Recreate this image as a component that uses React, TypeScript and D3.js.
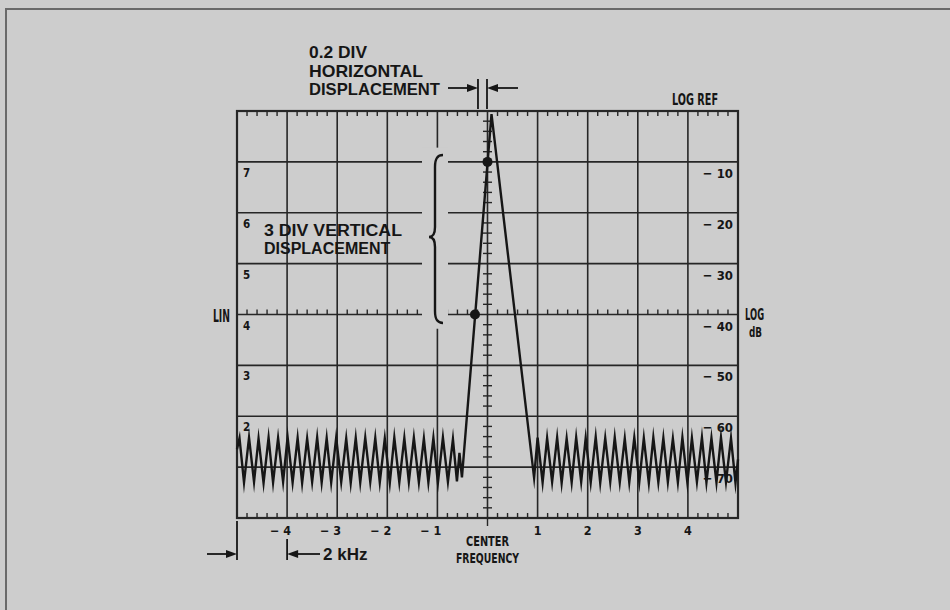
import React from "react";
import * as d3 from "d3";

const W = 950;
const H = 610;

// Graticule divisions (x: frequency divisions, y: LIN scale units)
const xDivisions = [-5, -4, -3, -2, -1, 0, 1, 2, 3, 4, 5];
const yLevels = [0, 1, 2, 3, 4, 5, 6, 7, 8];

const linLabels = ["7", "6", "5", "4", "3", "2"];
const linLevels = [7, 6, 5, 4, 3, 2];
const logLabels = ["− 10", "− 20", "− 30", "− 40", "− 50", "− 60", "− 70"];
const logLevels = [7, 6, 5, 4, 3, 2, 1];
const freqLabels = ["− 4", "− 3", "− 2", "− 1", "1", "2", "3", "4"];
const freqValues = [-4, -3, -2, -1, 1, 2, 3, 4];

// Trace: noise on the left
const leftNoiseX = [
  -5.0, -4.95, -4.86, -4.76, -4.66, -4.57, -4.47, -4.37, -4.28, -4.18, -4.08,
  -3.99, -3.89, -3.79, -3.7, -3.6, -3.5, -3.4, -3.31, -3.21, -3.12, -3.02,
  -2.92, -2.82, -2.73, -2.63, -2.54, -2.44, -2.34, -2.24, -2.15, -2.05, -1.95,
  -1.86, -1.76, -1.66, -1.57, -1.47, -1.37, -1.27, -1.18, -1.08, -0.99, -0.89,
  -0.79, -0.69, -0.61, -0.56, -0.51,
];
const leftNoiseY = [
  1.35, 1.57, 0.7, 1.58, 0.71, 1.56, 0.69, 1.58, 0.7, 1.57, 0.71, 1.59, 0.7,
  1.57, 0.69, 1.56, 0.71, 1.58, 0.7, 1.57, 0.7, 1.58, 0.71, 1.56, 0.69, 1.57,
  0.7, 1.58, 0.71, 1.57, 0.7, 1.56, 0.69, 1.58, 0.7, 1.57, 0.71, 1.58, 0.7,
  1.56, 0.7, 1.57, 0.69, 1.58, 0.71, 1.55, 0.72, 1.28, 0.8,
];
// Trace: the signal peak
const peakX = [-0.51, 0.08, 0.93];
const peakY = [0.8, 7.94, 0.79];
// Trace: noise on the right
const rightNoiseX = [
  0.93, 1.0, 1.1, 1.19, 1.29, 1.39, 1.48, 1.58, 1.68, 1.77, 1.87, 1.96, 2.06,
  2.16, 2.25, 2.35, 2.45, 2.54, 2.64, 2.74, 2.83, 2.93, 3.03, 3.12, 3.22, 3.31,
  3.41, 3.51, 3.6, 3.7, 3.8, 3.89, 3.99, 4.08, 4.18, 4.28, 4.37, 4.47, 4.57,
  4.66, 4.76, 4.86, 4.95, 5.0,
];
const rightNoiseY = [
  0.79, 1.58, 0.7, 1.57, 0.71, 1.58, 0.69, 1.56, 0.7, 1.58, 0.71, 1.57, 0.7,
  1.59, 0.69, 1.57, 0.71, 1.58, 0.7, 1.56, 0.7, 1.58, 0.71, 1.57, 0.69, 1.58,
  0.7, 1.57, 0.71, 1.56, 0.7, 1.58, 0.69, 1.57, 0.71, 1.58, 0.7, 1.57, 0.7,
  1.58, 0.71, 1.57, 0.69, 1.15,
];

// Marked points on the rising edge
const dotX = [-0.25, 0.0];
const dotY = [4, 7];
// 0.2 div horizontal displacement bars
const barX = [-0.19, -0.01];

const BG = "#cdcdcd";
const INK = "#161616";
const GRID = "#262626";
const COND = "'DejaVu Sans Condensed', 'DejaVu Sans', sans-serif";
const SANS = "'Liberation Sans', Arial, sans-serif";

export default function App() {
  const x = d3.scaleLinear().domain([-5, 5]).range([237, 738]);
  const y = d3.scaleLinear().domain([0, 8]).range([518, 111]);

  const minorX = x.ticks(50).filter((v) => Math.abs(v - Math.round(v)) > 1e-6);
  const minorY = y.ticks(40).filter((v) => Math.abs(v - Math.round(v)) > 1e-6);

  const traceX = [...leftNoiseX, ...peakX.slice(1), ...rightNoiseX.slice(1)];
  const traceY = [...leftNoiseY, ...peakY.slice(1), ...rightNoiseY.slice(1)];
  const pts: [number, number][] = traceX.map((v, i) => [v, traceY[i]]);
  const line = d3
    .line<[number, number]>()
    .x((d) => x(d[0]))
    .y((d) => y(d[1]));

  const x0 = x(-5);
  const x1 = x(5);
  const yTop = y(8);
  const yBot = y(0);
  const yMid = y(4);
  const xc = x(0);

  const arrowR = (xe: number, yy: number) =>
    `M${xe},${yy} L${xe - 11},${yy - 4} L${xe - 11},${yy + 4} Z`;
  const arrowL = (xe: number, yy: number) =>
    `M${xe},${yy} L${xe + 11},${yy - 4} L${xe + 11},${yy + 4} Z`;

  const bx0 = x(barX[0]);
  const bx1 = x(barX[1]);

  return (
    <svg
      width={W}
      height={H}
      viewBox={`0 0 ${W} ${H}`}
      style={{ position: "absolute", left: 0, top: 0, display: "block" }}
    >
      <rect x={0} y={0} width={W} height={H} fill={BG} />
      <rect x={6} y={9} width={W + 20} height={H + 20} fill="none" stroke="#6a6a6a" strokeWidth={2} />

      {/* Grid lines */}
      {xDivisions.slice(1, -1).map((d) => (
        <line key={"vx" + d} x1={x(d)} x2={x(d)} y1={yTop} y2={yBot} stroke={GRID} strokeWidth={1.6} />
      ))}
      {yLevels.slice(1, -1).map((d) => (
        <line key={"hy" + d} x1={x0} x2={x1} y1={y(d)} y2={y(d)} stroke={GRID} strokeWidth={1.6} />
      ))}

      {/* minor ticks */}
      {minorX.map((v) => (
        <g key={"mx" + v}>
          <line x1={x(v)} x2={x(v)} y1={yTop} y2={yTop + 5} stroke={GRID} strokeWidth={1.4} />
          <line x1={x(v)} x2={x(v)} y1={yBot} y2={yBot - 5} stroke={GRID} strokeWidth={1.4} />
          <line x1={x(v)} x2={x(v)} y1={yMid} y2={yMid - 5} stroke={GRID} strokeWidth={1.4} />
        </g>
      ))}
      {minorY.map((v) => (
        <line key={"my" + v} x1={xc - 4.5} x2={xc + 4.5} y1={y(v)} y2={y(v)} stroke={GRID} strokeWidth={1.4} />
      ))}

      {/* graticule border */}
      <rect x={x0} y={yTop} width={x1 - x0} height={yBot - yTop} fill="none" stroke={GRID} strokeWidth={2.2} />

      {/* knockout behind brace */}
      <rect x={422} y={y(7.28)} width={26} height={y(3.72) - y(7.28)} fill={BG} />

      {/* LIN labels */}
      {linLevels.map((lv, i) => (
        <text key={"lin" + lv} x={x0 + 6} y={y(lv) + 15} fontFamily={COND} fontWeight="bold" fontSize={11.5} fill={INK}>
          {linLabels[i]}
        </text>
      ))}
      {/* LOG labels */}
      {logLevels.map((lv, i) => (
        <text key={"log" + lv} x={x1 - 5} y={y(lv) + 16} textAnchor="end" fontFamily={COND} fontWeight="bold" fontSize={13} fill={INK}>
          {logLabels[i]}
        </text>
      ))}

      <text x={x0 - 24} y={yMid + 7} fontFamily={COND} fontWeight="bold" fontSize={17} textLength={17} lengthAdjust="spacingAndGlyphs" fill={INK}>
        LIN
      </text>
      <text x={x1 + 7} y={yMid + 5} fontFamily={COND} fontWeight="bold" fontSize={15} textLength={19} lengthAdjust="spacingAndGlyphs" fill={INK}>
        LOG
      </text>
      <text x={x1 + 11} y={yMid + 22} fontFamily={COND} fontWeight="bold" fontSize={14} textLength={13} lengthAdjust="spacingAndGlyphs" fill={INK}>
        dB
      </text>
      <text x={x1 - 20} y={yTop - 6} textAnchor="end" fontFamily={COND} fontWeight="bold" fontSize={15} textLength={46} lengthAdjust="spacingAndGlyphs" fill={INK}>
        LOG REF
      </text>

      {/* frequency labels */}
      {freqValues.map((v, i) => (
        <text
          key={"f" + v}
          x={v < 0 ? x(v) + 4 : x(v)}
          y={yBot + 17}
          textAnchor={v < 0 ? "end" : "middle"}
          fontFamily={COND}
          fontWeight="bold"
          fontSize={12.5}
          fill={INK}
        >
          {freqLabels[i]}
        </text>
      ))}
      <line x1={xc} x2={xc} y1={yBot} y2={yBot + 8} stroke={GRID} strokeWidth={1.4} />
      <text x={xc} y={yBot + 28} textAnchor="middle" fontFamily={COND} fontWeight="bold" fontSize={14.5} textLength={43} lengthAdjust="spacingAndGlyphs" fill={INK}>
        CENTER
      </text>
      <text x={xc} y={yBot + 45} textAnchor="middle" fontFamily={COND} fontWeight="bold" fontSize={14.5} textLength={63} lengthAdjust="spacingAndGlyphs" fill={INK}>
        FREQUENCY
      </text>

      {/* bottom 2 kHz markers */}
      <line x1={x0} x2={x0} y1={yBot + 3} y2={560} stroke={INK} strokeWidth={1.8} />
      <line x1={207} x2={x0 - 8} y1={554} y2={554} stroke={INK} strokeWidth={1.8} />
      <path d={arrowR(x0, 554)} fill={INK} />
      <line x1={x(-4)} x2={x(-4)} y1={539} y2={560} stroke={INK} strokeWidth={1.8} />
      <line x1={x(-4) + 8} x2={320} y1={554} y2={554} stroke={INK} strokeWidth={1.8} />
      <path d={arrowL(x(-4), 554)} fill={INK} />
      <text x={323} y={560} fontFamily={SANS} fontWeight="bold" fontSize={17} fill={INK}>
        2 kHz
      </text>

      {/* top 0.2 div annotation */}
      <text fontFamily={SANS} fontWeight="bold" fontSize={17} fill={INK}>
        <tspan x={309} y={58} textLength={58} lengthAdjust="spacingAndGlyphs">0.2 DIV</tspan>
        <tspan x={309} y={77} textLength={114} lengthAdjust="spacingAndGlyphs">HORIZONTAL</tspan>
        <tspan x={309} y={95} textLength={131} lengthAdjust="spacingAndGlyphs">DISPLACEMENT</tspan>
      </text>
      <line x1={bx0} x2={bx0} y1={79} y2={yTop - 2} stroke={INK} strokeWidth={1.8} />
      <line x1={bx1} x2={bx1} y1={79} y2={yTop - 2} stroke={INK} strokeWidth={1.8} />
      <line x1={448} x2={bx0 - 8} y1={88} y2={88} stroke={INK} strokeWidth={1.8} />
      <path d={arrowR(bx0, 88)} fill={INK} />
      <line x1={bx1 + 8} x2={518} y1={88} y2={88} stroke={INK} strokeWidth={1.8} />
      <path d={arrowL(bx1, 88)} fill={INK} />

      {/* 3 div vertical annotation */}
      <text fontFamily={SANS} fontWeight="bold" fontSize={16} fill={INK}>
        <tspan x={264} y={236} textLength={138} lengthAdjust="spacingAndGlyphs">3 DIV VERTICAL</tspan>
        <tspan x={264} y={254}>DISPLACEMENT</tspan>
      </text>
      <path
        d="M443,155 C437,155 435,159 435,167 L435,227 C435,233 433,237 429,237 C433,237 435,241 435,247 L435,311 C435,319 437,323 443,323"
        fill="none"
        stroke={INK}
        strokeWidth={2.4}
      />

      {/* trace */}
      <path d={line(pts) || ""} fill="none" stroke={INK} strokeWidth={2.4} strokeLinejoin="miter" strokeMiterlimit={10} />
      {dotX.map((v, i) => (
        <circle key={"dot" + i} cx={x(v)} cy={y(dotY[i])} r={5} fill={INK} />
      ))}
    </svg>
  );
}
